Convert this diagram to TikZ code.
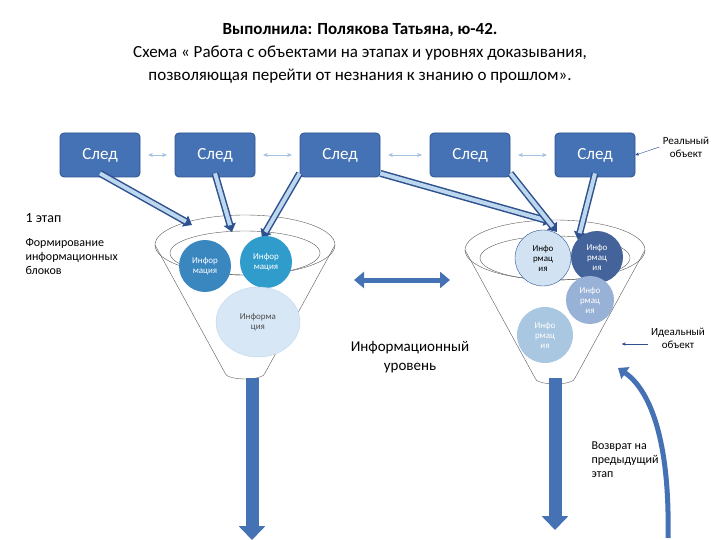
\documentclass[tikz,border=0pt]{standalone}
\usepackage{fontspec}
\setmainfont{Carlito}
\usetikzlibrary{arrows,arrows.meta,shapes,positioning,calc}
\definecolor{sledblue}{HTML}{4472B4}
\definecolor{sleddark}{HTML}{2F528F}
\definecolor{lightblue}{HTML}{BDD7EE}
\tikzset{
  % Define standard arrow tip
  >=stealth',
  % Define style for trace boxes
  sled/.style={
    rectangle,
    rounded corners=4pt,
    draw=sleddark, thick, fill=sledblue,
    minimum width=80pt,
    minimum height=44pt,
    text=white, font=\fontsize{17}{17}\selectfont},
  % Define style for information circles
  info/.style={
    circle, minimum size=52pt, inner sep=0pt,
    align=center, font=\fontsize{9}{10}\selectfont},
  % small double arrow between traces
  link/.style={
    <->, draw=lightblue!80!sledblue, semithick},
  % thick hollow arrow
  feed/.style={
    -{Triangle[length=8pt,width=12pt]},
    draw=sleddark, line width=7pt},
  feedin/.style={
    draw=lightblue, line width=4pt, shorten >=7pt},
  % big arrow down
  down/.style={
    -{Triangle[length=14pt,width=26pt]},
    draw=sledblue, line width=13pt},
  txt/.style={align=left, font=\fontsize{12}{14}\selectfont},
}
\begin{document}
\begin{tikzpicture}[x=1pt, y=-1pt]
  \useasboundingbox (0,0) rectangle (720,540);
  % title
  \node[font=\bfseries\fontsize{17}{20}\selectfont] (t1) at (360,30) {Выполнила: Полякова Татьяна, ю-42.};
  \node[font=\fontsize{17}{23}\selectfont, align=center] (t2) at (360,65)
    {Схема « Работа с объектами на этапах и уровнях доказывания,\\позволяющая перейти от незнания к знанию о прошлом».};
  % traces
  \node[sled] (s1) at (100,155) {След};
  \node[sled] (s2) at (215,155) {След};
  \node[sled] (s3) at (340,155) {След};
  \node[sled] (s4) at (470,155) {След};
  \node[sled] (s5) at (595,155) {След};
  \foreach \a/\b in {s1/s2, s2/s3, s3/s4, s4/s5}
    \draw[link, shorten <=8pt, shorten >=8pt] (\a) -- (\b);
  % funnels
  \coordinate (fl) at (245,245);
  \coordinate (fr) at (555,250);
  \foreach \f in {fl, fr} {
    \draw[gray!70!black, thin] (\f) ellipse (90 and 30);
    \draw[gray!70!black, thin] ($(\f)+(-90,0)$) -- ($(\f)+(-20,128)$)
      arc (180:0:20 and 6) -- ($(\f)+(90,0)$);
    \draw[gray!70!black, thin] ($(\f)+(0,8)$) ellipse (75 and 22);
  }
  % down arrows
  \coordinate (dl1) at (252,378);
  \coordinate (dl2) at (252,540);
  \coordinate (dr1) at (555,378);
  \coordinate (dr2) at (555,530);
  \draw[down] (dl1) -- (dl2);
  \draw[down] (dr1) -- (dr2);
  % feeds
  \coordinate (e1) at (192,225);
  \coordinate (e2) at (232,232);
  \coordinate (e3) at (262,238);
  \coordinate (e4) at (552,222);
  \coordinate (e5) at (557,232);
  \coordinate (e6) at (578,240);
  \foreach \a/\b in {s1.south/e1, s2.south/e2, s3.south west/e3, s3.south east/e4, s4.south east/e5, s5.south/e6} {
    \draw[feed] ($(\a)+(0,-4)$) -- (\b);
    \draw[feedin] ($(\a)+(0,-4)$) -- (\b);
  }
  % information
  \node[info, fill=sledblue!85!cyan, text=white] (i1) at (205,266) {Инфор\\мация};
  \node[info, fill=sledblue!70!cyan, text=white] (i2) at (266,262) {Инфор\\мация};
  \node[info, ellipse, minimum width=84pt, minimum height=70pt, fill=lightblue!60, draw=lightblue,
    text=gray!60!black] (i3) at (258,322) {Информа\\ция};
  \node[info, minimum size=56pt, fill=lightblue!70, draw=sleddark] (i4) at (543,258) {Инфо\\рмац\\ия};
  \node[info, fill=sleddark!90, text=white] (i5) at (597,257) {Инфо\\рмац\\ия};
  \node[info, minimum size=48pt, fill=sledblue!55, text=white] (i6) at (590,300) {Инфо\\рмац\\ия};
  \node[info, minimum size=56pt, fill=cyan!35!sledblue!45, text=white] (i7) at (545,335) {Инфо\\рмац\\ия};
  % middle
  \node[font=\fontsize{15}{19}\selectfont, align=center] (lvl) at (410,357) {Информационный\\уровень};
  \coordinate (m1) at (354,280);
  \coordinate (m2) at (450,280);
  \draw[{Triangle[length=10pt,width=16pt]}-{Triangle[length=10pt,width=16pt]}, draw=sledblue,
    line width=5pt] (m1) -- (m2);
  % side labels
  \node[txt, font=\fontsize{14}{16}\selectfont, anchor=west] (st) at (22,218) {1 этап};
  \node[txt, anchor=north west] (st2) at (22,235) {Формирование\\информационных\\блоков};
  \node[txt, font=\fontsize{11}{13}\selectfont, align=center] (real) at (686,147) {Реальный\\объект};
  \draw[->, sleddark] (real.west) -- (s5.east);
  \node[txt, font=\fontsize{11}{13}\selectfont, align=center] (ideal) at (678,338) {Идеальный\\объект};
  \coordinate (ia) at (622,344);
  \draw[->, sleddark] (ideal.west |- ia) -- (ia);
  \node[txt, anchor=north west] (back) at (588,438) {Возврат на\\предыдущий\\этап};
  \coordinate (b1) at (668,538);
  \coordinate (b2) at (618,368);
  \draw[-{Triangle[length=9pt,width=14pt]}, draw=sledblue, line width=5pt]
    (b1) .. controls (670,440) and (650,390) .. (b2);
\end{tikzpicture}
\end{document}
